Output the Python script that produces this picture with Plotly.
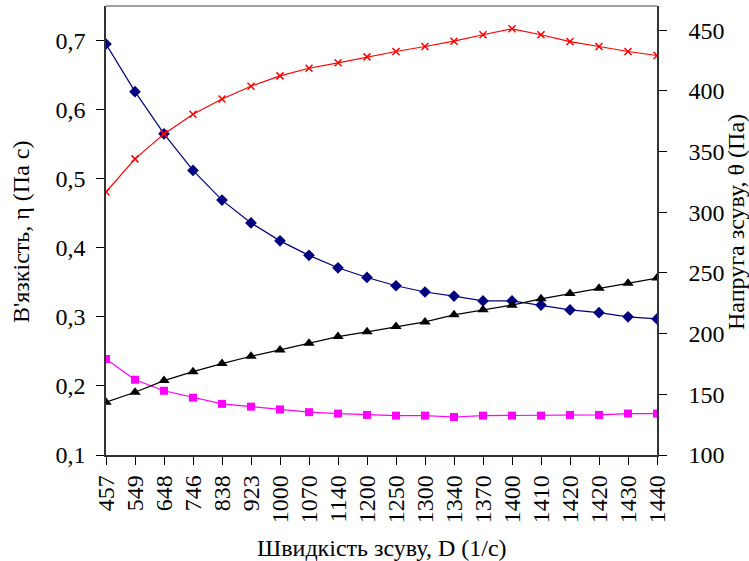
import plotly.graph_objects as go

shear_rate = ["457", "549", "648", "746", "838", "923", "1000", "1070", "1140", "1200",
              "1250", "1300", "1340", "1370", "1400", "1410", "1420", "1420", "1430", "1440"]
viscosity_1 = [0.695, 0.626, 0.565, 0.512, 0.469, 0.436, 0.410, 0.389, 0.371, 0.357,
               0.345, 0.336, 0.330, 0.323, 0.323, 0.317, 0.310, 0.306, 0.300, 0.297]
stress_1 = [316.7, 344.0, 364.6, 380.8, 393.4, 403.9, 412.4, 418.7, 423.2, 428.1,
            432.5, 436.6, 441.0, 446.3, 451.2, 446.3, 440.7, 436.6, 432.5, 429.2]
viscosity_2 = [0.239, 0.209, 0.193, 0.183, 0.174, 0.170, 0.166, 0.162, 0.160, 0.158,
               0.157, 0.157, 0.155, 0.157, 0.157, 0.157, 0.158, 0.158, 0.160, 0.160]
stress_2 = [143.5, 151.7, 161.3, 168.7, 175.3, 181.4, 186.6, 192.1, 197.6, 201.5,
            205.8, 209.7, 215.5, 219.6, 223.5, 228.7, 233.1, 237.5, 241.6, 245.8]

left_ticks = [0.1, 0.2, 0.3, 0.4, 0.5, 0.6, 0.7]
right_ticks = [100, 150, 200, 250, 300, 350, 400, 450]

x_title = "Швидкість зсуву, D (1/с)"
y_title = "В'язкість, η (Па с)"
y2_title = "Напруга зсуву, θ (Па)"

x = list(range(len(shear_rate)))
FONT = "Liberation Serif"
FS = 24

fig = go.Figure()
fig.add_trace(go.Scatter(x=x, y=viscosity_1, mode="lines+markers", yaxis="y",
                         line=dict(color="#000080", width=1.2),
                         marker=dict(symbol="diamond", size=9, color="#000080")))
fig.add_trace(go.Scatter(x=x, y=viscosity_2, mode="lines+markers", yaxis="y",
                         line=dict(color="#FF00FF", width=1.2),
                         marker=dict(symbol="square", size=8, color="#FF00FF")))
fig.add_trace(go.Scatter(x=x, y=stress_1, mode="lines+markers", yaxis="y2",
                         line=dict(color="#FF0000", width=1.2),
                         marker=dict(symbol="x-thin", size=7,
                                     line=dict(color="#FF0000", width=1.5))))
fig.add_trace(go.Scatter(x=x, y=stress_2, mode="lines+markers", yaxis="y2",
                         line=dict(color="#000000", width=1.2),
                         marker=dict(symbol="triangle-up", size=10, color="#000000")))

axis_line = dict(showline=True, linecolor="#333333", linewidth=1.5,
                 showgrid=False, zeroline=False, ticklen=8, tickwidth=1.3,
                 tickcolor="#000000", automargin=False)
xr = [0, len(x) - 1]
yr = [0.1, 0.75]
y2r = [100, 470]

fig.update_layout(
    width=749, height=561,
    margin=dict(l=106, r=92, t=6, b=106),
    paper_bgcolor="white", plot_bgcolor="white",
    showlegend=False,
    separators=", ",
    font=dict(family=FONT, size=FS, color="#000000"),
    xaxis=dict(range=xr, tickvals=x, ticktext=shear_rate, tickangle=-90,
               ticks="outside", ticklabelstandoff=1,
               tickfont=dict(family=FONT, size=FS), **axis_line),
    yaxis=dict(range=yr, tickvals=left_ticks, tickformat=".1f", ticks="outside",
               ticklabelstandoff=6,
               tickfont=dict(family=FONT, size=FS), **axis_line),
    yaxis2=dict(range=y2r, tickvals=right_ticks, overlaying="y", side="right",
                ticks="outside", anchor="x", ticklabelstandoff=17,
                tickfont=dict(family=FONT, size=FS), **axis_line),
    # overlay axes for the inward half of the crossing tick marks
    xaxis2=dict(range=xr, tickvals=x, overlaying="x", anchor="y", side="bottom",
                ticks="inside", showticklabels=False, **axis_line),
    yaxis3=dict(range=yr, tickvals=left_ticks, overlaying="y", anchor="x", side="left",
                ticks="inside", showticklabels=False, **axis_line),
    yaxis4=dict(range=y2r, tickvals=right_ticks, overlaying="y", anchor="x", side="right",
                ticks="inside", showticklabels=False, **axis_line),
)

# plot area: x 106..657, y 6..455 (pixels)
def px(xp):
    return (xp - 106) / 551.0

def py(yp):
    return (455 - yp) / 449.0

fig.add_annotation(text=x_title, xref="paper", yref="paper", x=0.5, y=py(548),
                   xanchor="center", yanchor="middle", showarrow=False,
                   font=dict(family=FONT, size=FS))
fig.add_annotation(text=y_title, xref="paper", yref="paper", x=px(21), y=py(232),
                   xanchor="center", yanchor="middle", textangle=-90, showarrow=False,
                   font=dict(family=FONT, size=FS))
fig.add_annotation(text=y2_title, xref="paper", yref="paper", x=px(736), y=py(222),
                   xanchor="center", yanchor="middle", textangle=-90, showarrow=False,
                   font=dict(family=FONT, size=FS))
fig.add_shape(type="line", xref="paper", yref="paper", x0=0, x1=1, y0=1, y1=1,
              line=dict(color="#808080", width=1.5))
fig.write_html("out.html", config={"displayModeBar": False},
               post_script="document.body.style.margin='0';")
